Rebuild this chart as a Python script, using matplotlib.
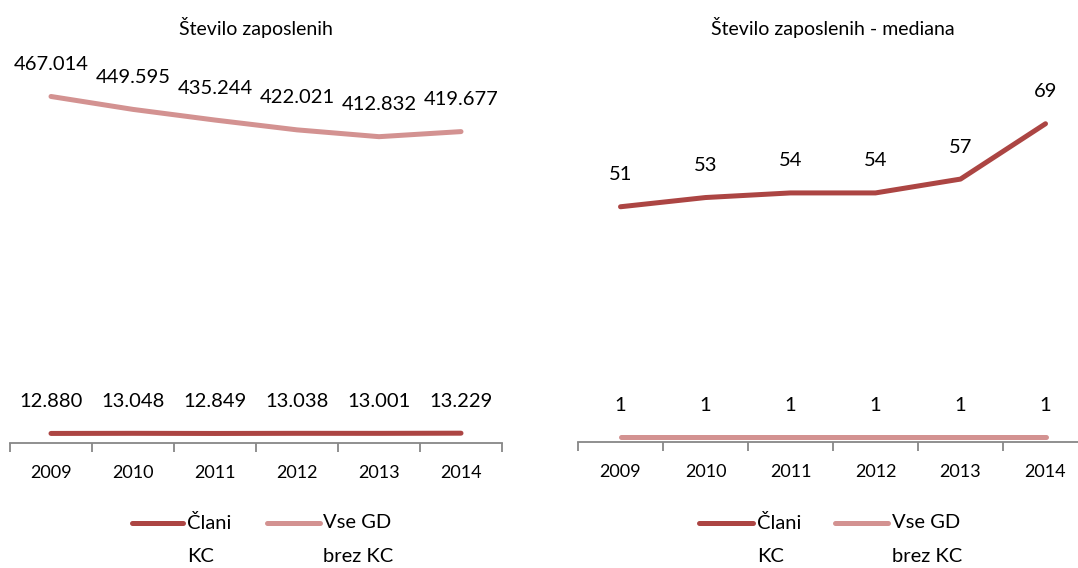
import matplotlib
matplotlib.use("Agg")
import matplotlib.pyplot as plt
from matplotlib.lines import Line2D

plt.rcParams['font.family'] = ['Lato', 'DejaVu Sans']

years = ["2009", "2010", "2011", "2012", "2013", "2014"]
left_clani = [12880, 13048, 12849, 13038, 13001, 13229]
left_vse = [467014, 449595, 435244, 422021, 412832, 419677]
right_clani = [51, 53, 54, 54, 57, 69]
right_vse = [1, 1, 1, 1, 1, 1]
titles = ["Število zaposlenih", "Število zaposlenih - mediana"]
legend_labels = [("Člani", "KC"), ("Vse GD", "brez KC")]

DARK = "#AC4543"
LIGHT = "#D39291"
AXIS = "#878787"
W, H = 1078, 568

fig = plt.figure(figsize=(W / 100, H / 100), dpi=100)


def fx(px):
    return px / W


def fy(py):
    return 1 - py / H


def fmt(v):
    return f"{v:,}".replace(",", ".")


def make_panel(x0, x1, ybot, ytop, ymax, clani, vse, title):
    ax = fig.add_axes([fx(x0), fy(ybot), fx(x1 - x0), (ybot - ytop) / H])
    xs = list(range(len(years)))
    ax.plot(xs, vse, color=LIGHT, lw=3.6, solid_capstyle='round', clip_on=False, zorder=3)
    ax.plot(xs, clani, color=DARK, lw=3.6, solid_capstyle='round', clip_on=False, zorder=4)
    for series in (vse, clani):
        for x, v in zip(xs, series):
            ax.annotate(fmt(v), (x, v), xytext=(0, 32), textcoords='offset pixels',
                        ha='center', va='center', fontsize=14.5, color='black',
                        annotation_clip=False)
    ax.set_xlim(-0.5, len(years) - 0.5)
    ax.set_ylim(0, ymax)
    for s in ('left', 'right', 'top'):
        ax.spines[s].set_visible(False)
    ax.spines['bottom'].set_color(AXIS)
    ax.spines['bottom'].set_linewidth(1.3)
    ax.set_yticks([])
    ax.set_xticks(xs)
    ax.set_xticklabels(years, fontsize=13)
    ax.tick_params(axis='x', which='major', length=0, pad=16)
    ax.set_xticks([i - 0.5 for i in range(len(years) + 1)], minor=True)
    ax.tick_params(axis='x', which='minor', length=6.5, width=1.3, color=AXIS, direction='out')
    ax.patch.set_alpha(0)
    fig.text(fx((x0 + x1) / 2), fy(28), title, ha='center', va='center', fontsize=14)
    return ax


make_panel(10, 502, 443, 72, 500000, left_clani, left_vse, titles[0])
make_panel(578, 1088, 442, 73, 80, right_clani, right_vse, titles[1])


def legend(entries):
    for (lx0, lx1, tx), color, (l1, l2) in zip(entries, (DARK, LIGHT), legend_labels):
        fig.add_artist(Line2D([fx(lx0), fx(lx1)], [fy(523), fy(523)], color=color, lw=3.6,
                              solid_capstyle='round', transform=fig.transFigure))
        fig.text(fx(tx), fy(523), l1, ha='left', va='center', fontsize=14.5)
        fig.text(fx(tx), fy(556), l2, ha='left', va='center', fontsize=14.5)


legend([(132, 183, 187), (267, 320, 323)])
legend([(699, 753, 757), (835, 888, 892)])

fig.savefig("out.png", dpi=100)
